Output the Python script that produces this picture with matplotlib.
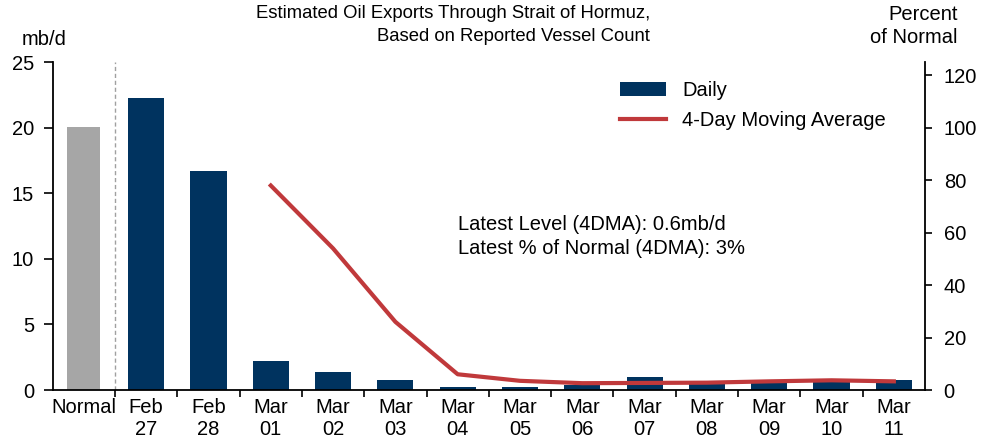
import numpy as np
import matplotlib.pyplot as plt

plt.rcParams['font.family'] = ['Liberation Sans', 'DejaVu Sans']

# data
categories = ["Normal", "Feb\n27", "Feb\n28", "Mar\n01", "Mar\n02", "Mar\n03", "Mar\n04",
              "Mar\n05", "Mar\n06", "Mar\n07", "Mar\n08", "Mar\n09", "Mar\n10", "Mar\n11"]
daily_mbd = [20.1, 22.3, 16.7, 2.2, 1.4, 0.74, 0.2, 0.2, 0.4, 1.0, 0.45, 0.6, 0.65, 0.74]
ma_labels = ["Mar\n01", "Mar\n02", "Mar\n03", "Mar\n04", "Mar\n05", "Mar\n06",
             "Mar\n07", "Mar\n08", "Mar\n09", "Mar\n10", "Mar\n11"]
ma_pct = [78, 54, 26, 6, 3.5, 2.6, 2.7, 2.8, 3.3, 3.7, 3.3]

NAVY = "#00335F"
GREY = "#A6A6A6"
RED = "#C0393B"
FS = 14.5
TITLE_FS = 13.3

fig = plt.figure(figsize=(9.9, 4.43), dpi=100)
ax = fig.add_axes([52.7 / 990, 1 - 390 / 443, (925 - 52.7) / 990, (390 - 62.3) / 443])
ax2 = ax.twinx()

x = np.arange(len(categories))
ax.bar(x[0], daily_mbd[0], width=0.53, color=GREY, zorder=2)
ax.bar(x[1:], daily_mbd[1:], width=0.58, color=NAVY, label="Daily", zorder=2)

ma_x = [categories.index(c) for c in ma_labels]
ax2.plot(ma_x, ma_pct, color=RED, lw=3, label="4-Day Moving Average", zorder=3)

ax.axvline(0.5, color="#A0A0A0", lw=1, ls=(0, (3, 2)), zorder=1)

ax.set_xlim(-0.5, 13.5)
ax.set_ylim(0, 25)
ax2.set_ylim(0, 125)
ax.set_yticks([0, 5, 10, 15, 20, 25])
ax2.set_yticks([0, 20, 40, 60, 80, 100, 120])

ax.set_xticks(x)
ax.set_xticklabels(categories, fontsize=FS, linespacing=1.2)
ax.set_xticks(np.arange(0.5, 13.5, 1), minor=True)
ax.tick_params(axis="x", which="major", length=0, pad=6)
ax.tick_params(axis="x", which="minor", length=5, width=1.2, direction="out")
ax.tick_params(axis="y", length=6.5, width=1.2, labelsize=FS, pad=7)
ax2.tick_params(axis="y", length=5, width=1.2, labelsize=FS, pad=8.5)

for a in (ax, ax2):
    a.spines["top"].set_visible(False)
    for s in ("left", "right", "bottom"):
        a.spines[s].set_linewidth(1.3)
ax.spines["right"].set_visible(False)
ax2.spines["left"].set_visible(False)
ax2.spines["bottom"].set_visible(False)

# titles and axis unit labels
fig.text(650 / 990, 1 - 5 / 443,
         "Estimated Oil Exports Through Strait of Hormuz,\nBased on Reported Vessel Count",
         ha="right", va="top", fontsize=TITLE_FS, multialignment="right", linespacing=1.45)
fig.text(22 / 990, 1 - 30 / 443, "mb/d", ha="left", va="top", fontsize=FS)
fig.text(958 / 990, 1 - 5 / 443, "Percent\nof Normal", ha="right", va="top",
         fontsize=FS, multialignment="right", linespacing=1.25)

ax.text(458 / 990, 1 - 215 / 443,
        "Latest Level (4DMA): 0.6mb/d\nLatest % of Normal (4DMA): 3%",
        transform=fig.transFigure, ha="left", va="top", fontsize=FS, linespacing=1.3)

h1, l1 = ax.get_legend_handles_labels()
h2, l2 = ax2.get_legend_handles_labels()
fig.legend(h1 + h2, l1 + l2, loc="upper left", bbox_to_anchor=(620 / 990, 1 - 81 / 443),
           frameon=False, fontsize=FS, handlelength=2.3, handleheight=0.7,
           handletextpad=0.8, labelspacing=0.55, borderpad=0, borderaxespad=0)

fig.savefig("out.png", dpi=100)
